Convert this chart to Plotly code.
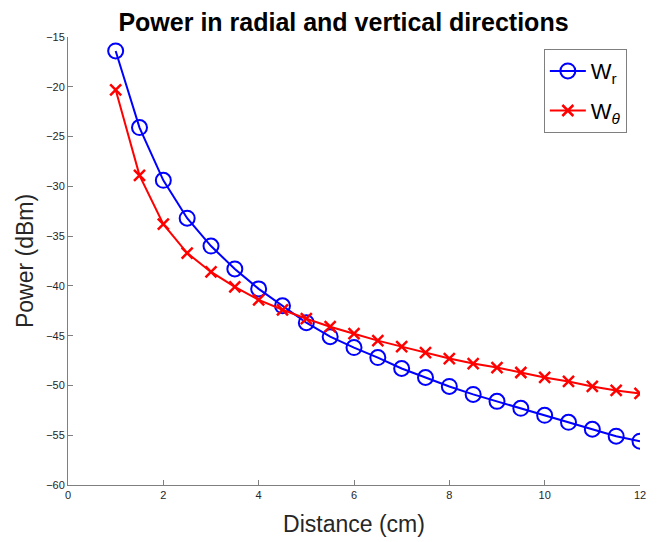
import plotly.graph_objects as go

distance = [1, 1.5, 2, 2.5, 3, 3.5, 4, 4.5, 5, 5.5, 6, 6.5, 7, 7.5, 8, 8.5, 9, 9.5, 10, 10.5, 11, 11.5, 12]
w_r = [-16.4, -24.1, -29.4, -33.2, -36.0, -38.3, -40.3, -42.0, -43.7, -45.1, -46.2, -47.2,
       -48.3, -49.2, -50.1, -50.9, -51.6, -52.3, -53.0, -53.7, -54.4, -55.1, -55.6]
w_theta = [-20.3, -28.9, -33.8, -36.7, -38.6, -40.1, -41.4, -42.4, -43.3, -44.1, -44.8, -45.5,
           -46.1, -46.7, -47.3, -47.8, -48.2, -48.7, -49.2, -49.6, -50.1, -50.5, -50.8]
x_ticks = [0, 2, 4, 6, 8, 10, 12]
y_ticks = [-60, -55, -50, -45, -40, -35, -30, -25, -20, -15]

FONT = "Liberation Sans, Arial, sans-serif"

fig = go.Figure()
fig.add_trace(go.Scatter(
    x=distance, y=w_r, mode="lines+markers", name="W<sub>r</sub>", legendgroup="a",
    line=dict(color="#0000ff", width=2),
    marker=dict(symbol="circle-open", size=15, color="#0000ff", line=dict(width=2, color="#0000ff")),
))
fig.add_trace(go.Scatter(
    x=distance, y=w_theta, mode="lines+markers", name="W<sub><i>θ</i></sub>", legendgroup="b",
    line=dict(color="#ff0000", width=2),
    marker=dict(symbol="x-thin-open", size=11, color="#ff0000", line=dict(width=2.5, color="#ff0000")),
))

axis_common = dict(
    showgrid=False, zeroline=False, showline=True, linecolor="#7f7f7f", linewidth=1,
    ticks="inside", ticklen=5, tickcolor="#7f7f7f",
    tickfont=dict(family=FONT, size=11, color="#262626"),
    mirror=False,
)

fig.update_layout(
    width=667, height=542,
    margin=dict(l=60, r=35, t=29, b=65),
    plot_bgcolor="white", paper_bgcolor="white",
    title=dict(text="<b>Power in radial and vertical directions</b>",
               font=dict(family=FONT, size=25, color="black"),
               x=0.503, xanchor="center", y=1.0, yanchor="top", pad=dict(t=5, b=0)),
    xaxis=dict(range=[0, 12], tickvals=x_ticks,
               title=dict(text="Distance (cm)", standoff=15,
                          font=dict(family=FONT, size=23, color="#262626")),
               **axis_common),
    yaxis=dict(range=[-60, -15], tickvals=y_ticks,
               title=dict(text="Power (dBm)", standoff=6,
                          font=dict(family=FONT, size=23, color="#262626")),
               **axis_common),
    legend=dict(x=0.977, y=0.973, xanchor="right", yanchor="top",
                bordercolor="#7f7f7f", borderwidth=1, bgcolor="white",
                font=dict(family=FONT, size=22, color="black"),
                traceorder="grouped", tracegroupgap=8, itemwidth=36),
    showlegend=True,
)

fig.write_html("out.html")
